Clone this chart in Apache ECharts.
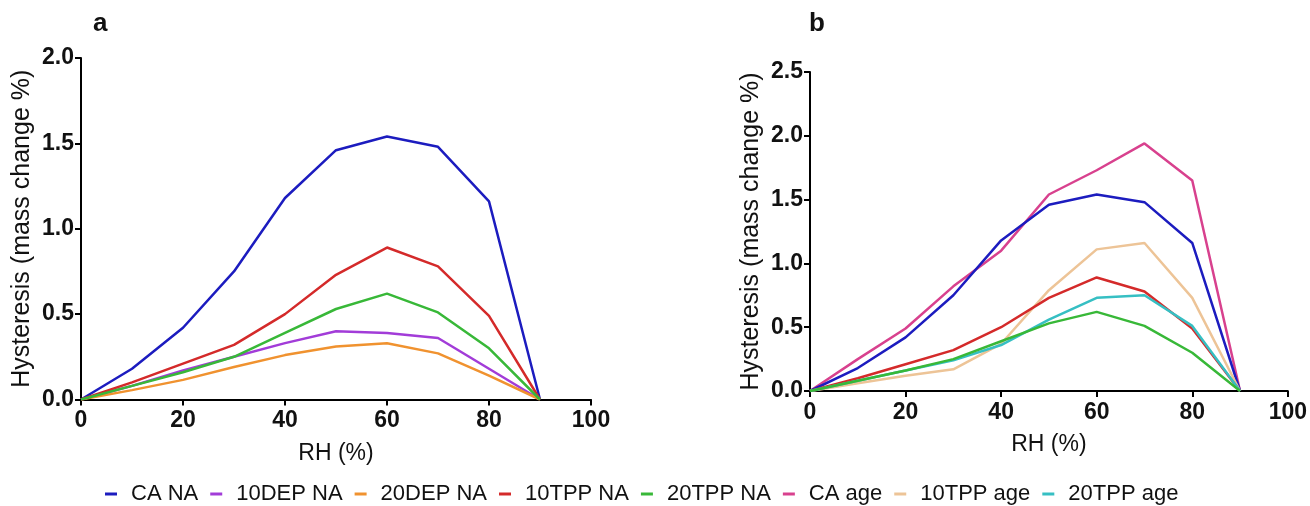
<!DOCTYPE html>
<html><head><meta charset="utf-8">
<script src="https://cdn.jsdelivr.net/npm/echarts@6/dist/echarts.min.js"></script>
<style>html,body{margin:0;padding:0;background:#fff}#c{width:1310px;height:506px}</style>
</head><body><div id="c"></div>
<script>
const rh = [0, 10, 20, 30, 40, 50, 60, 70, 80, 90];
const caNA     = [0, 0.18, 0.42, 0.75, 1.18, 1.46, 1.54, 1.48, 1.16, 0];
const dep10NA  = [0, 0.08, 0.17, 0.25, 0.33, 0.40, 0.39, 0.36, 0.18, 0];
const dep20NA  = [0, 0.055, 0.115, 0.19, 0.26, 0.31, 0.33, 0.27, 0.14, 0];
const tpp10NA  = [0, 0.10, 0.21, 0.32, 0.50, 0.73, 0.89, 0.78, 0.49, 0];
const tpp20NA  = [0, 0.08, 0.16, 0.25, 0.39, 0.53, 0.62, 0.51, 0.30, 0];
const caAge    = [0, 0.25, 0.49, 0.82, 1.10, 1.54, 1.73, 1.94, 1.65, 0];
const tpp10Age = [0, 0.06, 0.12, 0.17, 0.37, 0.79, 1.11, 1.16, 0.73, 0];
const tpp20Age = [0, 0.08, 0.16, 0.24, 0.36, 0.56, 0.73, 0.75, 0.51, 0];
const xTicks = [0, 20, 40, 60, 80, 100];
const names = ['CA NA','10DEP NA','20DEP NA','10TPP NA','20TPP NA','CA age','10TPP age','20TPP age'];
const colors = {'CA NA':'#1c1cbf','10DEP NA':'#a23cd8','20DEP NA':'#f0922f','10TPP NA':'#d42a2a','20TPP NA':'#38b838','CA age':'#d8418e','10TPP age':'#edc497','20TPP age':'#36bfc3'};

const pairs = v => rh.map((x, i) => [x, v[i]]);
const font = '"Liberation Sans", Arial, sans-serif';

function xAxis(idx, gap){
  return {gridIndex: idx, type:'value', min:0, max:100, interval:20,
    name:'RH (%)', nameLocation:'middle', nameGap:gap,
    nameTextStyle:{fontFamily:font, fontSize:23, color:'#111'},
    axisLine:{lineStyle:{color:'#000', width:2}},
    axisTick:{length:6, lineStyle:{color:'#000', width:2}},
    axisLabel:{fontFamily:font, fontSize:23, fontWeight:'bold', color:'#111', margin:10},
    splitLine:{show:false}};
}
function yAxis(idx, max){
  return {gridIndex: idx, type:'value', min:0, max:max, interval:0.5,
    name:'Hysteresis (mass change %)', nameLocation:'middle', nameGap:46,
    nameTextStyle:{fontFamily:font, fontSize:25, color:'#111'},
    axisLine:{show:true, lineStyle:{color:'#000', width:2}},
    axisTick:{show:true, length:6, lineStyle:{color:'#000', width:2}},
    axisLabel:{fontFamily:font, fontSize:23, fontWeight:'bold', color:'#111', margin:7,
      formatter: v => v.toFixed(1)},
    splitLine:{show:false}};
}
function line(name, data, idx){
  return {name, type:'line', xAxisIndex:idx, yAxisIndex:idx, data: pairs(data),
    symbol:'none', lineStyle:{width:2.5, color:colors[name]}, itemStyle:{color:colors[name]}};
}

const chart = echarts.init(document.getElementById('c'), null, {renderer:'canvas'});
chart.setOption({
  animation:false,
  backgroundColor:'#fff',
  title:[
    {text:'a', left:88, top:6, textStyle:{fontFamily:font, fontSize:26, fontWeight:'bold', color:'#111'}},
    {text:'b', left:804, top:6, textStyle:{fontFamily:font, fontSize:26, fontWeight:'bold', color:'#111'}}
  ],
  grid:[
    {left:81, top:58, width:510, height:341.5},
    {left:810, top:72, width:479, height:319}
  ],
  xAxis:[xAxis(0, 43), xAxis(1, 42)],
  yAxis:[yAxis(0, 2.0), yAxis(1, 2.5)],
  legend:{data:names, left:100, top:478, itemWidth:12, itemHeight:3, itemGap:12,
    icon:'rect',
    textStyle:{fontFamily:font, fontSize:22, color:'#111', padding:[0,0,0,9]}},
  series:[
    line('CA NA', caNA, 0), line('10DEP NA', dep10NA, 0), line('20DEP NA', dep20NA, 0),
    line('10TPP NA', tpp10NA, 0), line('20TPP NA', tpp20NA, 0),
    line('CA age', caAge, 1), line('CA NA', caNA, 1), line('10TPP age', tpp10Age, 1),
    line('10TPP NA', tpp10NA, 1), line('20TPP age', tpp20Age, 1), line('20TPP NA', tpp20NA, 1)
  ]
});
</script></body></html>
